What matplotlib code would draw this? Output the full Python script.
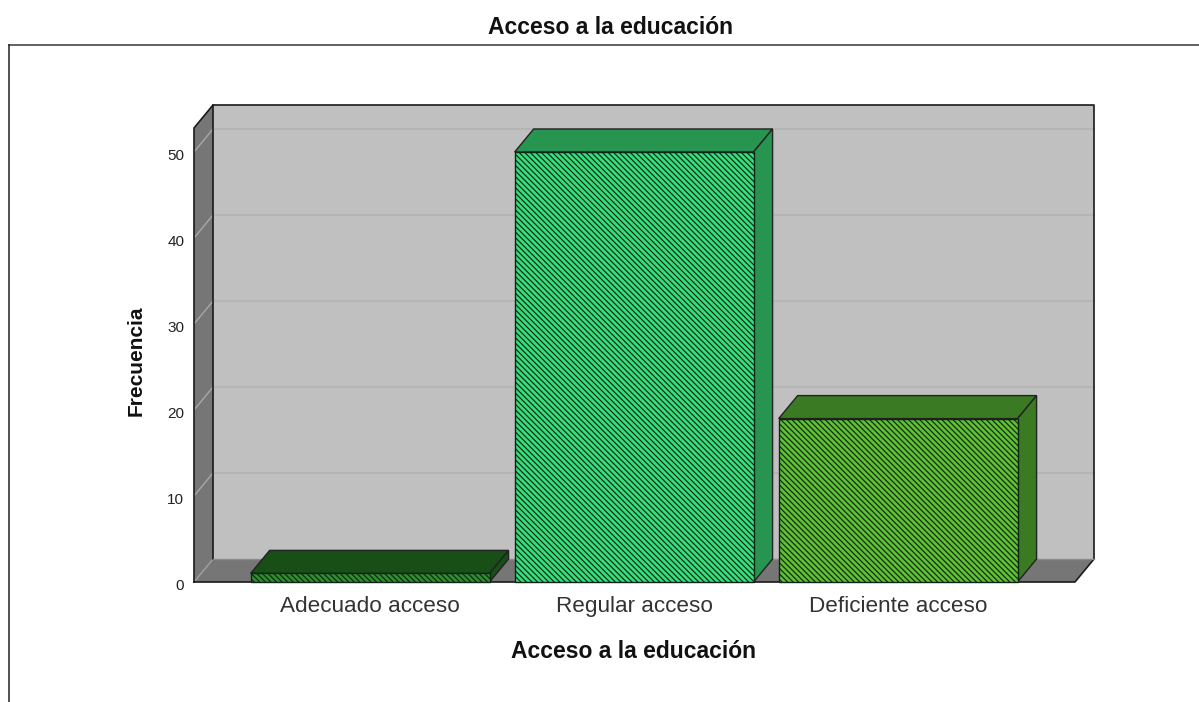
import matplotlib
matplotlib.use('Agg')
import matplotlib.pyplot as plt
from matplotlib.lines import Line2D
from matplotlib.transforms import ScaledTranslation

plt.rcParams['font.family'] = ['Liberation Sans', 'DejaVu Sans']
plt.rcParams['hatch.linewidth'] = 0.85

categorias = ['Adecuado acceso', 'Regular acceso', 'Deficiente acceso']
frecuencia = [1, 50, 19]
ticks_y = [0, 10, 20, 30, 40, 50]
color_frente = ['#2f8f2a', '#35e07a', '#5fc030']
color_lado = ['#174f17', '#27954f', '#3a7a22']

W, H = 1199, 702
fig = plt.figure(figsize=(W / 100, H / 100), dpi=100, facecolor='white')
ax = fig.add_axes([194 / W, 1 - 582 / H, (1075 - 194) / W, (582 - 128) / H])
ax.set_xlim(-0.667, 2.67)
ax.set_ylim(0, 52.79)
ax.patch.set_visible(False)
for s in ax.spines.values():
    s.set_visible(False)

# profundidad del efecto 3D, en unidades de datos
dx = 19 / 264
dy = 23 / 8.6
x0, x1 = ax.get_xlim()
y0, y1 = ax.get_ylim()

# paredes y suelo
ax.fill([x0 + dx, x1 + dx, x1 + dx, x0 + dx], [y0 + dy, y0 + dy, y1 + dy, y1 + dy],
        fc='#c0c0c0', ec='none', clip_on=False, zorder=1)
ax.fill([x0, x0 + dx, x0 + dx, x0], [y0, y0 + dy, y1 + dy, y1],
        fc='#767676', ec='none', clip_on=False, zorder=1.2)
ax.fill([x0, x1, x1 + dx, x0 + dx], [y0, y0, y0 + dy, y0 + dy],
        fc='#767676', ec='none', clip_on=False, zorder=1.2)

# rejilla
for t in ticks_y[1:]:
    ax.plot([x0 + dx, x1 + dx], [t + dy, t + dy], color='#b3b3b3', lw=1.2, clip_on=False, zorder=1.5)
    ax.plot([x0, x0 + dx], [t, t + dy], color='#a8a8a8', lw=1.0, clip_on=False, zorder=1.5)
ax.plot([x0, x0 + dx], [0, dy], color='#a0a0a0', lw=1.0, clip_on=False, zorder=1.5)

# bordes
ax.plot([x0, x0, x0 + dx, x1 + dx, x1 + dx, x1, x0], [y0, y1, y1 + dy, y1 + dy, y0 + dy, y0, y0],
        color='#1a1a1a', lw=1.2, clip_on=False, zorder=1.6)
ax.plot([x0 + dx, x0 + dx], [dy, y1 + dy], color='#1a1a1a', lw=1.2, clip_on=False, zorder=1.6)
ax.plot([x0 + dx, x1 + dx], [dy, dy], color='#8c8c8c', lw=1.0, clip_on=False, zorder=1.6)

# barras
ancho = 0.905
for i, v in enumerate(frecuencia):
    a = i - ancho / 2
    b = i + ancho / 2
    z = 3 + i
    ax.fill([a, b, b + dx, a + dx], [v, v, v + dy, v + dy],
            fc=color_lado[i], ec='#222222', lw=1.0, clip_on=False, zorder=z)
    ax.fill([b, b + dx, b + dx, b], [0, dy, v + dy, v],
            fc=color_lado[i], ec='#222222', lw=1.0, clip_on=False, zorder=z)
    ax.bar(i, v, width=ancho, color=color_frente[i], edgecolor='#10241a',
           hatch='\\' * 6, lw=1.0, zorder=z + 0.5, clip_on=False)

ax.set_xticks(range(len(categorias)))
ax.set_xticklabels(categorias, fontsize=16.2, color='#333333')
ax.set_yticks(ticks_y)
ax.tick_params(axis='x', length=0, pad=10)
ax.tick_params(axis='y', length=0, pad=7, labelsize=11, labelcolor='#222222')
# las etiquetas de y quedan un poco por debajo de su linea
bajar = ScaledTranslation(0, -3 / 72 * 0.72, fig.dpi_scale_trans)
for lab in ax.get_yticklabels():
    lab.set_transform(lab.get_transform() + bajar)

fig.text(610 / W, 1 - 27 / H, 'Acceso a la educación', fontsize=16.5, fontweight='bold',
         ha='center', va='center', color='#111111')
fig.text(633.5 / W, 1 - 651 / H, 'Acceso a la educación', fontsize=16.5, fontweight='bold',
         ha='center', va='center', color='#111111')
fig.text(136 / W, 1 - 361 / H, 'Frecuencia', fontsize=15, fontweight='bold', rotation=90,
         ha='center', va='center', color='#111111')

# marco exterior
fig.add_artist(Line2D([8.5 / W, 1], [1 - 44.5 / H, 1 - 44.5 / H], color='#555555', lw=1.3))
fig.add_artist(Line2D([8.5 / W, 8.5 / W], [1 - 44.5 / H, 0], color='#222222', lw=1.1))

fig.savefig('out.png', dpi=100)
